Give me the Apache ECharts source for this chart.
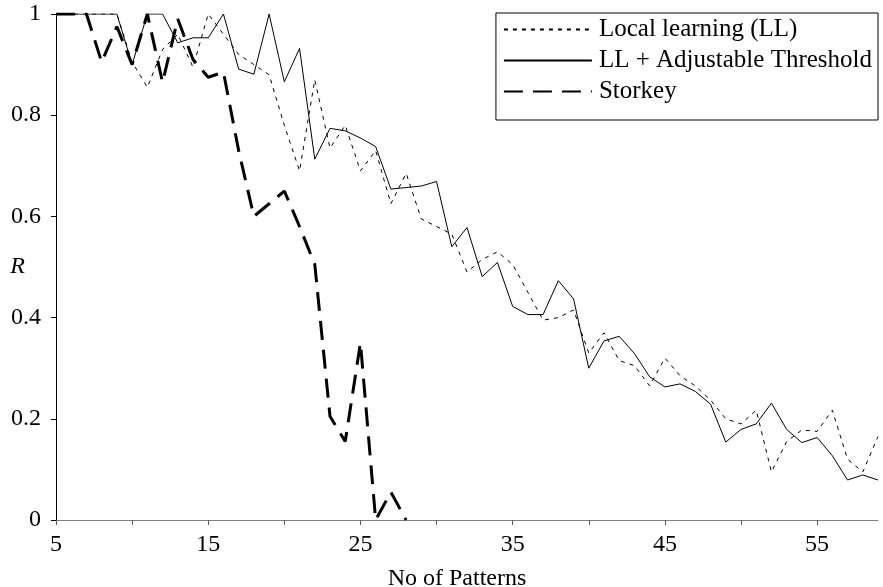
<!DOCTYPE html>
<html>
<head>
<meta charset="utf-8">
<script src="https://cdn.jsdelivr.net/npm/echarts@6/dist/echarts.min.js"></script>
<style>
html,body{margin:0;padding:0;background:#fff;}
#chart{width:883px;height:587px;}
</style>
</head>
<body>
<div id="chart"></div>
<script>
const patterns = [5,6,7,8,9,10,11,12,13,14,15,16,17,18,19,20,21,22,23,24,25,26,27,28,29,30,31,32,33,34,35,36,37,38,39,40,41,42,43,44,45,46,47,48,49,50,51,52,53,54,55,56,57,58,59];
const localLearning = [1,1,1,1,1,0.905,0.855,0.93,0.96,0.895,1.0,0.96,0.92,0.90,0.88,0.78,0.69,0.87,0.735,0.78,0.69,0.73,0.625,0.685,0.595,0.58,0.565,0.49,0.515,0.53,0.505,0.45,0.395,0.40,0.415,0.33,0.37,0.315,0.305,0.265,0.32,0.285,0.265,0.237,0.20,0.19,0.217,0.095,0.155,0.178,0.175,0.217,0.12,0.095,0.165];
const llAdjustable = [1,1,1,1,1,0.90,1,1,0.943,0.953,0.953,1.0,0.891,0.881,1.0,0.866,0.932,0.713,0.774,0.769,0.755,0.738,0.654,0.657,0.66,0.669,0.54,0.578,0.481,0.509,0.422,0.406,0.406,0.473,0.437,0.30,0.354,0.363,0.329,0.283,0.263,0.269,0.254,0.229,0.154,0.179,0.19,0.231,0.179,0.153,0.163,0.127,0.079,0.089,0.079];
const storkeyPatterns = [5,6,7,8,9,10,11,12,13,14,15,16,17,18,19,20,21,22,23,24,25,26,27,28];
const storkey = [1,1,1,0.905,0.975,0.90,1.0,0.865,0.99,0.91,0.875,0.885,0.73,0.60,0.625,0.65,0.58,0.505,0.205,0.155,0.35,0,0.055,0];
const xTickValues = [5,10,15,20,25,30,35,40,45,50,55];
const xLabelValues = [5,15,25,35,45,55];
const seriesNames = ['Local learning (LL)','LL + Adjustable Threshold','Storkey'];

const pair = (xs, ys) => xs.map((x, i) => [x, ys[i]]);
const FONT = '"Liberation Serif","Times New Roman",serif';

const chart = echarts.init(document.getElementById('chart'), null, {renderer:'canvas'});
chart.setOption({
  animation: false,
  backgroundColor: '#fff',
  grid: {left: 56, right: 5, top: 14, bottom: 67, containLabel: false, outerBoundsMode: 'none'},
  legend: {
    orient: 'vertical',
    right: 5,
    top: 13,
    data: seriesNames,
    itemWidth: 88,
    itemHeight: 14,
    itemGap: 6,
    padding: [4, 6, 16, 7],
    borderColor: '#000',
    borderWidth: 1,
    backgroundColor: '#fff',
    itemStyle: {opacity: 0},
    textStyle: {fontFamily: FONT, fontSize: 25, color: '#000', lineHeight: 25, padding: [0,0,0,2]}
  },
  xAxis: {
    type: 'value',
    min: 5, max: 59, interval: 5,
    name: 'No of Patterns',
    nameLocation: 'middle',
    nameGap: 47,
    nameMoveOverlap: false,
    nameTextStyle: {fontFamily: FONT, fontSize: 24, color: '#000', padding: [0, 20, 0, 0]},
    splitLine: {show: false},
    axisLine: {lineStyle: {color: '#808080', width: 1}},
    axisTick: {show: true, length: 5, lineStyle: {color: '#555'}, customValues: xTickValues},
    axisLabel: {
      fontFamily: FONT, fontSize: 24, color: '#000', margin: 13,
      customValues: xLabelValues,
      formatter: v => (xLabelValues.indexOf(v) >= 0 ? String(v) : '')
    }
  },
  yAxis: {
    type: 'value',
    min: 0, max: 1, interval: 0.2,
    name: 'R',
    nameLocation: 'middle',
    nameRotate: 0,
    nameGap: 31,
    nameMoveOverlap: false,
    nameTextStyle: {fontFamily: FONT, fontSize: 24, fontStyle: 'italic', color: '#000'},
    splitLine: {show: false},
    axisLine: {show: true, lineStyle: {color: '#000', width: 1}},
    axisTick: {show: true, length: 5, lineStyle: {color: '#000'}},
    axisLabel: {fontFamily: FONT, fontSize: 24, color: '#000', margin: 15}
  },
  series: [
    {
      name: seriesNames[0], type: 'line', data: pair(patterns, localLearning),
      symbol: 'none', lineStyle: {color: '#000', width: 1, type: [4, 5]}, itemStyle: {color: '#000'}
    },
    {
      name: seriesNames[1], type: 'line', data: pair(patterns, llAdjustable),
      symbol: 'none', lineStyle: {color: '#000', width: 1, type: 'solid'}, itemStyle: {color: '#000'}
    },
    {
      name: seriesNames[2], type: 'line', data: pair(storkeyPatterns, storkey),
      symbol: 'none', lineStyle: {color: '#000', width: 3, type: [19, 10]}, itemStyle: {color: '#000'}
    }
  ]
});
</script>
</body>
</html>
